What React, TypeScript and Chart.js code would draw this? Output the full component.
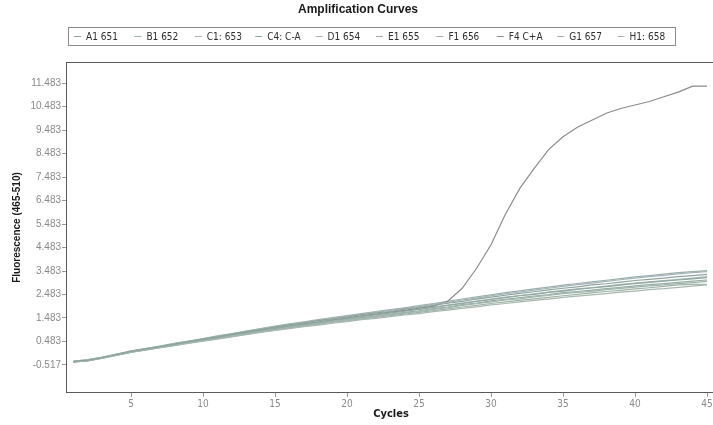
import React, { useEffect, useRef } from "react";
import { Chart, registerables } from "chart.js";

Chart.register(...registerables);

// Cycle numbers on the x axis
const cycles = [
  1, 2, 3, 4, 5, 6, 7, 8, 9, 10, 11, 12, 13, 14, 15, 16, 17, 18, 19, 20, 21, 22, 23,
  24, 25, 26, 27, 28, 29, 30, 31, 32, 33, 34, 35, 36, 37, 38, 39, 40, 41, 42, 43, 44, 45,
];

// Axis tick positions
const xTicks = [5, 10, 15, 20, 25, 30, 35, 40, 45];
const yTicks = [-0.517, 0.483, 1.483, 2.483, 3.483, 4.483, 5.483, 6.483, 7.483, 8.483, 9.483, 10.483, 11.483];

// Sample names
const sampleNames = ["A1 651", "B1 652", "C1: 653", "C4: C-A", "D1 654", "E1 655", "F1 656", "F4 C+A", "G1 657", "H1: 658"];

// Fluorescence (465-510) per cycle for each sample
const a1 = [
  -0.36, -0.31, -0.2, -0.06, 0.06, 0.17, 0.27, 0.37, 0.49, 0.58, 0.68, 0.8, 0.9, 0.99, 1.1, 1.19, 1.27, 1.37, 1.44, 1.52, 1.62, 1.7, 1.76,
  1.86, 1.93, 2.02, 2.11, 2.19, 2.29, 2.37, 2.45, 2.53, 2.6, 2.68, 2.75, 2.81, 2.89, 2.94, 3.01, 3.08, 3.13, 3.18, 3.24, 3.29, 3.34,
];
const b1 = [
  -0.39, -0.34, -0.23, -0.1, 0.03, 0.12, 0.23, 0.32, 0.43, 0.52, 0.61, 0.72, 0.81, 0.91, 0.99, 1.09, 1.16, 1.24, 1.33, 1.4, 1.47, 1.55, 1.63,
  1.69, 1.76, 1.85, 1.92, 2.02, 2.09, 2.17, 2.25, 2.3, 2.38, 2.44, 2.52, 2.57, 2.62, 2.69, 2.74, 2.8, 2.85, 2.89, 2.95, 2.99, 3.04,
];
const c1 = [
  -0.37, -0.33, -0.24, -0.11, 0.02, 0.11, 0.21, 0.31, 0.4, 0.5, 0.58, 0.68, 0.77, 0.87, 0.95, 1.03, 1.11, 1.18, 1.26, 1.33, 1.41, 1.47, 1.54,
  1.61, 1.67, 1.75, 1.82, 1.89, 1.96, 2.04, 2.1, 2.17, 2.23, 2.29, 2.36, 2.41, 2.47, 2.52, 2.58, 2.63, 2.69, 2.73, 2.79, 2.84, 2.89,
];
const c4 = [
  -0.4, -0.33, -0.21, -0.08, 0.05, 0.15, 0.25, 0.35, 0.45, 0.55, 0.66, 0.75, 0.86, 0.95, 1.05, 1.14, 1.21, 1.3, 1.38, 1.46, 1.55, 1.62, 1.7,
  1.77, 1.85, 1.93, 2.02, 2.1, 2.19, 2.27, 2.35, 2.43, 2.49, 2.57, 2.63, 2.7, 2.76, 2.82, 2.88, 2.95, 3.0, 3.05, 3.1, 3.15, 3.2,
];
const d1 = [
  -0.35, -0.3, -0.19, -0.06, 0.07, 0.18, 0.28, 0.39, 0.49, 0.6, 0.7, 0.8, 0.91, 1.02, 1.11, 1.21, 1.3, 1.38, 1.47, 1.56, 1.64, 1.73, 1.81,
  1.89, 1.97, 2.07, 2.15, 2.25, 2.33, 2.43, 2.51, 2.59, 2.67, 2.75, 2.83, 2.9, 2.97, 3.04, 3.11, 3.18, 3.24, 3.3, 3.36, 3.41, 3.46,
];
const e1 = [
  -0.38, -0.32, -0.22, -0.09, 0.04, 0.13, 0.24, 0.33, 0.44, 0.53, 0.63, 0.73, 0.83, 0.93, 1.01, 1.11, 1.18, 1.27, 1.34, 1.42, 1.5, 1.57, 1.65,
  1.72, 1.79, 1.88, 1.95, 2.05, 2.12, 2.21, 2.28, 2.35, 2.42, 2.48, 2.56, 2.61, 2.67, 2.73, 2.79, 2.85, 2.9, 2.95, 3.0, 3.05, 3.1,
];
const f1 = [
  -0.37, -0.31, -0.22, -0.1, 0.03, 0.12, 0.22, 0.32, 0.42, 0.51, 0.6, 0.7, 0.79, 0.89, 0.97, 1.06, 1.14, 1.21, 1.29, 1.36, 1.44, 1.51, 1.58,
  1.65, 1.72, 1.8, 1.87, 1.95, 2.02, 2.1, 2.17, 2.23, 2.3, 2.36, 2.43, 2.49, 2.55, 2.61, 2.66, 2.72, 2.77, 2.83, 2.89, 2.91, 2.92,
];
const f4 = [
  -0.38, -0.33, -0.22, -0.09, 0.04, 0.14, 0.24, 0.35, 0.45, 0.55, 0.65, 0.76, 0.86, 0.96, 1.05, 1.14, 1.23, 1.31, 1.4, 1.48, 1.57, 1.65, 1.73,
  1.81, 1.9, 1.99, 2.2, 2.75, 3.6, 4.6, 5.9, 7.0, 7.85, 8.65, 9.2, 9.6, 9.9, 10.2, 10.4, 10.55, 10.7, 10.9, 11.1, 11.35, 11.35,
];
const g1 = [
  -0.36, -0.29, -0.18, -0.05, 0.08, 0.18, 0.29, 0.4, 0.5, 0.61, 0.72, 0.82, 0.93, 1.03, 1.14, 1.23, 1.32, 1.41, 1.5, 1.58, 1.67, 1.76, 1.84,
  1.92, 2.01, 2.1, 2.19, 2.29, 2.38, 2.47, 2.56, 2.64, 2.72, 2.8, 2.88, 2.95, 3.02, 3.09, 3.16, 3.23, 3.29, 3.35, 3.41, 3.46, 3.5,
];
const h1 = [
  -0.39, -0.32, -0.21, -0.08, 0.05, 0.16, 0.25, 0.36, 0.46, 0.56, 0.66, 0.77, 0.86, 0.97, 1.05, 1.15, 1.23, 1.31, 1.39, 1.48, 1.55, 1.64, 1.71,
  1.79, 1.86, 1.95, 2.03, 2.12, 2.2, 2.29, 2.37, 2.44, 2.51, 2.58, 2.66, 2.72, 2.78, 2.84, 2.91, 2.97, 3.02, 3.07, 3.13, 3.18, 3.24,
];

const sampleValues = [a1, b1, c1, c4, d1, e1, f1, f4, g1, h1];
const sampleColors = [
  "#8ea39c", "#9fb5ae", "#a8b8b0", "#90a8a0", "#a4b4b8",
  "#98aca4", "#a0b2a6", "#8c8c8c", "#9cb0aa", "#a6b6b2",
];

const NARROW = "'Liberation Sans Narrow', 'DejaVu Sans Condensed', 'Arial Narrow', sans-serif";
const SANS = "'Liberation Sans', Arial, sans-serif";

export default function App() {
  const canvasRef = useRef<HTMLCanvasElement>(null);

  useEffect(() => {
    const canvas = canvasRef.current;
    if (!canvas) return;

    // Frame around the plotting area
    const plotFrame = {
      id: "plotFrame",
      afterDatasetsDraw(chart: any) {
        const { ctx, chartArea } = chart;
        const { left, top, right, bottom } = chartArea;
        ctx.save();
        ctx.strokeStyle = "#5a5a5a";
        ctx.lineWidth = 1;
        ctx.strokeRect(left + 0.5, top + 0.5, right - left - 1, bottom - top - 1);
        ctx.restore();
      },
    };

    // Boxed legend row under the title
    const boxedLegend = {
      id: "boxedLegend",
      afterDraw(chart: any) {
        const { ctx } = chart;
        ctx.save();
        ctx.fillStyle = "#ffffff";
        ctx.fillRect(68, 27, 607, 18);
        ctx.strokeStyle = "#8a8a8a";
        ctx.lineWidth = 1;
        ctx.strokeRect(68.5, 27.5, 607, 18);
        ctx.font = `10px ${NARROW}`;
        ctx.textBaseline = "middle";
        ctx.textAlign = "left";
        chart.data.datasets.forEach((ds: any, i: number) => {
          const tx = 86 + i * 60.4;
          ctx.strokeStyle = ds.borderColor;
          ctx.beginPath();
          ctx.moveTo(tx - 12, 36.5);
          ctx.lineTo(tx - 5, 36.5);
          ctx.stroke();
          ctx.fillStyle = "#2e2e2e";
          ctx.fillText(ds.label, tx, 37);
        });
        ctx.restore();
      },
    };

    const chart = new Chart(canvas, {
      type: "line",
      data: {
        labels: cycles,
        datasets: sampleNames.map((name, i) => ({
          label: name,
          data: cycles.map((c, j) => ({ x: c, y: sampleValues[i][j] })),
          borderColor: sampleColors[i],
          backgroundColor: sampleColors[i],
          borderWidth: 1.2,
          pointRadius: 0,
          tension: 0,
          fill: false,
        })),
      },
      options: {
        responsive: false,
        animation: false,
        layout: { padding: { left: 0, right: 0, top: 0, bottom: 0 } },
        plugins: {
          legend: { display: false },
          tooltip: { enabled: false },
          title: {
            display: true,
            text: "Amplification Curves",
            color: "#1a1a1a",
            font: { family: SANS, size: 12, weight: "bold", lineHeight: 1 },
            padding: { top: 4, bottom: 46 },
          },
        },
        scales: {
          x: {
            type: "linear",
            min: 0.486,
            max: 45.625,
            afterFit(scale: any) {
              scale.height = 32;
            },
            afterBuildTicks(scale: any) {
              scale.ticks = xTicks.map((v) => ({ value: v }));
            },
            ticks: {
              color: "#8a8a8a",
              font: { family: NARROW, size: 10 },
              padding: 1,
              maxRotation: 0,
              autoSkip: false,
            },
            grid: { drawOnChartArea: false, drawTicks: true, tickLength: 4, color: "#9a9a9a" },
            border: { display: false },
            title: {
              display: true,
              text: "Cycles",
              color: "#1a1a1a",
              font: { family: NARROW, size: 11, weight: "bold" },
              padding: { top: 0, bottom: 4 },
            },
          },
          y: {
            type: "linear",
            min: -1.71,
            max: 12.38,
            afterFit(scale: any) {
              scale.width = 66;
            },
            afterBuildTicks(scale: any) {
              scale.ticks = yTicks.map((v) => ({ value: v }));
            },
            ticks: {
              color: "#8a8a8a",
              font: { family: SANS, size: 10 },
              padding: 1,
              autoSkip: false,
              callback: (v: any) => Number(v).toFixed(3),
            },
            grid: { drawOnChartArea: false, drawTicks: true, tickLength: 4, color: "#9a9a9a" },
            border: { display: false },
            title: {
              display: true,
              text: "Fluorescence (465-510)",
              color: "#1a1a1a",
              font: { family: SANS, size: 10, weight: "bold" },
              padding: { top: 11, bottom: 0 },
            },
          },
        },
      },
      plugins: [plotFrame, boxedLegend],
    });

    return () => chart.destroy();
  }, []);

  return (
    <div style={{ position: "fixed", left: 0, top: 0, width: 713, height: 425, overflow: "hidden", background: "#fff" }}>
      <canvas ref={canvasRef} width={716} height={425} style={{ display: "block" }} />
    </div>
  );
}
